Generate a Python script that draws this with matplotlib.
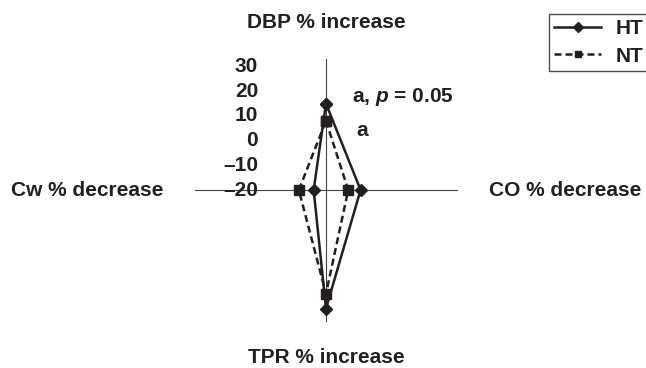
import numpy as np
import matplotlib.pyplot as plt

plt.rcParams['font.family'] = ['Liberation Sans', 'DejaVu Sans']
plt.rcParams['font.weight'] = 'bold'
plt.rcParams['mathtext.fontset'] = 'custom'
plt.rcParams['mathtext.it'] = 'Liberation Sans:bold:italic'
plt.rcParams['mathtext.rm'] = 'Liberation Sans:bold'

axes_names = ["DBP % increase", "CO % decrease", "TPR % increase", "Cw % decrease"]
ticks = [-20, -10, 0, 10, 20, 30]
tick_labels = ["\u201320", "\u201310", "0", "10", "20", "30"]
ht = [15, -6, 28, -15]
nt = [8, -11, 22, -9]
rmin = -20

ink = '#231f20'
angles = np.array([90, 0, -90, 180]) * np.pi / 180

def to_xy(vals):
    r = np.array(vals) - rmin
    x = r * np.cos(angles)
    y = r * np.sin(angles)
    return np.append(x, x[0]), np.append(y, y[0])

fig = plt.figure(figsize=(6.46, 3.68), dpi=100)
ax = fig.add_axes([0, 0, 1, 1])
s = 2.47  # px per unit
ax.set_xlim(-326 / s, 320 / s)
ax.set_ylim(-(368 - 190) / s, 190 / s)
ax.axis('off')

rmax = 53
for a in angles:
    ax.plot([0, rmax * np.cos(a)], [0, rmax * np.sin(a)], color='#444444', lw=0.8, zorder=1)

for t, lab in zip(ticks, tick_labels):
    ax.text(-27.5, t - rmin, lab, ha='right', va='center', fontsize=15,
            fontweight='bold', color=ink)

x, y = to_xy(ht)
ax.plot(x, y, color=ink, lw=1.8, marker='D', markersize=6.5, label='HT', zorder=3)
x, y = to_xy(nt)
ax.plot(x, y, color=ink, lw=1.8, ls=(0, (2.8, 1.6)), marker='s', markersize=6.5, label='NT', zorder=3)

ax.text(0, 68, axes_names[0], ha='center', va='center', fontsize=15, color=ink)
ax.text(97, 0, axes_names[1], ha='center', va='center', fontsize=15, color=ink)
ax.text(0, -68, axes_names[2], ha='center', va='center', fontsize=15, color=ink)
ax.text(-96.5, 0, axes_names[3], ha='center', va='center', fontsize=15, color=ink)

ax.text(10.5, 37.5, r"a, $p$ = 0.05", ha='left', va='center', fontsize=15, color=ink)
ax.text(12.5, 24, "a", ha='left', va='center', fontsize=15, color=ink)

leg = ax.legend(loc='upper left', bbox_to_anchor=(549 / 646, 1 - 14 / 368),
                bbox_transform=fig.transFigure, frameon=True, fancybox=False,
                edgecolor=ink, prop={'size': 15, 'weight': 'bold'}, handlelength=2.25,
                handletextpad=0.7, borderpad=0.25, borderaxespad=0, labelspacing=0.4,
                markerscale=0.75)
leg.get_frame().set_linewidth(1.0)
for t in leg.get_texts():
    t.set_color(ink)

fig.savefig("out.png", dpi=100)
